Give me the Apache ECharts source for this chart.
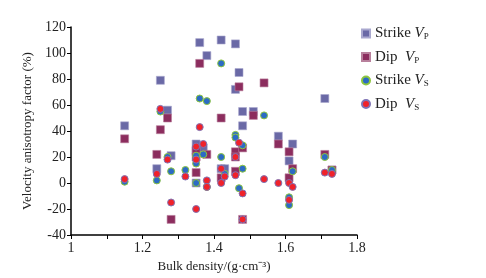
<!DOCTYPE html>
<html><head><meta charset="utf-8">
<script src="https://cdn.jsdelivr.net/npm/echarts@6/dist/echarts.min.js"></script>
<style>html,body{margin:0;padding:0;background:#fff}#c{width:486px;height:278px}</style>
</head><body><div id="c"></div>
<script>
var seriesNames = ['Strike VP', 'Dip VP', 'Strike VS', 'Dip VS'];
var strikeVpX = [1.15,1.24,1.25,1.27,1.28,1.35,1.35,1.35,1.36,1.37,1.38,1.42,1.42,1.43,1.46,1.46,1.47,1.48,1.48,1.51,1.58,1.61,1.62,1.71,1.73];
var strikeVpY = [44,11,79,56,21,30,24,0,108,27,98,110,11,11,107,72,85,55,44,55,36,17,30,65,10];
var dipVpX = [1.15,1.24,1.25,1.27,1.28,1.35,1.35,1.35,1.36,1.38,1.42,1.42,1.46,1.46,1.46,1.47,1.48,1.48,1.51,1.54,1.58,1.61,1.61,1.62,1.71,1.73];
var dipVpY = [34,22,41,50,-28,25,20,8,92,22,50,4,24,20,9,74,27,-28,52,77,30,24,4,11,22,10];
var strikeVsX = [1.15,1.24,1.25,1.27,1.28,1.32,1.35,1.35,1.35,1.36,1.37,1.38,1.38,1.42,1.42,1.43,1.46,1.46,1.47,1.48,1.48,1.54,1.61,1.61,1.62,1.71,1.73];
var strikeVsY = [1,2,55,20,9,10,21,15,0,65,22,63,-3,92,20,7,37,35,-4,29,11,52,-11,-17,9,20,10];
var dipVsX = [1.15,1.24,1.25,1.27,1.28,1.32,1.35,1.35,1.35,1.36,1.37,1.38,1.38,1.42,1.42,1.43,1.46,1.46,1.47,1.48,1.48,1.54,1.58,1.61,1.61,1.62,1.71,1.73];
var dipVsY = [3,7,57,18,-15,5,28,18,-20,43,30,2,-3,11,0,5,20,6,31,-8,-28,3,0,0,-13,-3,8,7];
var xTicks = [1, 1.2, 1.4, 1.6, 1.8];

function pairs(xs, ys){ return xs.map(function(x,i){ return [x, ys[i]]; }); }
var serif = 'Liberation Serif';
var legendRich = {
  n: {fontFamily: serif, fontSize: 15, color: '#222'},
  i: {fontFamily: serif, fontSize: 15, fontStyle: 'italic', color: '#222'},
  s: {fontFamily: serif, fontSize: 9, color: '#222', padding: [7,0,0,0]}
};
var chart = echarts.init(document.getElementById('c'), null, {renderer: 'canvas'});
chart.setOption({
  animation: false,
  backgroundColor: '#fff',
  grid: {left: 71, right: 129, top: 27, bottom: 43, containLabel: false},
  legend: {
    orient: 'vertical', left: 356, top: 21, itemGap: 8,
    itemWidth: 8, itemHeight: 8,
    data: [
      {name: seriesNames[0], icon: 'rect'},
      {name: seriesNames[1], icon: 'rect'},
      {name: seriesNames[2], icon: 'circle'},
      {name: seriesNames[3], icon: 'circle'}
    ],
    textStyle: {rich: legendRich},
    formatter: function(name){
      var parts = name.split(' ');
      var sub = parts[1].charAt(1);
      var gap = parts[0] === 'Dip' ? '  ' : ' ';
      return '{n|' + parts[0] + gap + '}{i|V}{s|' + sub + '}';
    }
  },
  xAxis: {
    type: 'value', min: 1, max: 1.8, interval: 0.1,
    name: 'Bulk density/(g·cm⁻³)', nameLocation: 'middle', nameGap: 23,
    nameTextStyle: {fontFamily: serif, fontSize: 13, color: '#222'},
    axisLine: {show: true, onZero: false, lineStyle: {color: '#000', width: 1.5}},
    axisTick: {show: true, inside: false, length: 4, lineStyle: {color: '#000'}},
    splitLine: {show: false},
    axisLabel: {
      fontFamily: serif, fontSize: 14, color: '#222', margin: 6,
      formatter: function(v){
        var k = Math.round(v * 10);
        if (k % 2 !== 0) return '';
        var t = k / 10;
        return xTicks.indexOf(t) >= 0 ? String(t) : '';
      }
    }
  },
  yAxis: {
    type: 'value', min: -40, max: 120, interval: 20,
    name: 'Velocity anisotropy factor (%)', nameLocation: 'middle', nameGap: 34,
    nameTextStyle: {fontFamily: serif, fontSize: 13, color: '#222'},
    axisLine: {show: true, onZero: false, lineStyle: {color: '#000', width: 1.5}},
    axisTick: {show: true, inside: false, length: 4, lineStyle: {color: '#000'}},
    splitLine: {show: false},
    axisLabel: {fontFamily: serif, fontSize: 14, color: '#222', margin: 5}
  },
  series: [
    {name: seriesNames[0], type: 'scatter', symbol: 'rect', symbolSize: 8,
     itemStyle: {color: '#6a69a6', borderColor: '#a9a8cf', borderWidth: 0.6, opacity: 1},
     data: pairs(strikeVpX, strikeVpY)},
    {name: seriesNames[1], type: 'scatter', symbol: 'rect', symbolSize: 8,
     itemStyle: {color: '#8c2d5e', borderColor: '#b8809c', borderWidth: 0.6, opacity: 1},
     data: pairs(dipVpX, dipVpY)},
    {name: seriesNames[2], type: 'scatter', symbol: 'circle', symbolSize: 7,
     itemStyle: {color: '#2c6bc4', borderColor: '#8dc63f', borderWidth: 1, opacity: 1},
     data: pairs(strikeVsX, strikeVsY)},
    {name: seriesNames[3], type: 'scatter', symbol: 'circle', symbolSize: 7,
     itemStyle: {color: '#f0222a', borderColor: '#7f73b5', borderWidth: 1, opacity: 1},
     data: pairs(dipVsX, dipVsY)}
  ]
});
</script></body></html>
